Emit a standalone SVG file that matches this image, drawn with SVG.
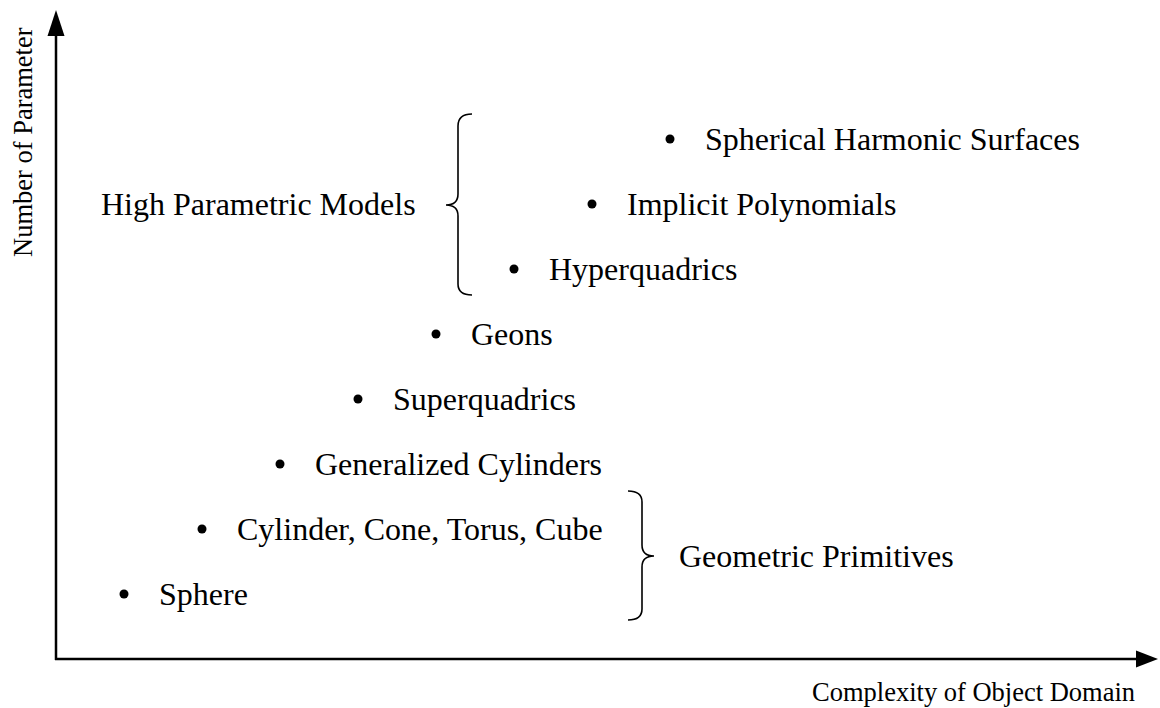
<svg xmlns="http://www.w3.org/2000/svg" width="1160" height="708" viewBox="0 0 1160 708">
<style>
text{font-family:"Liberation Serif","Times New Roman",serif;fill:#000}
.lbl{font-size:32px}
.ax{font-size:26.5px}
.axis{stroke:#000;stroke-width:2.5;fill:none}
.brace{stroke:#000;stroke-width:1.6;fill:none}
.dot{fill:#000}
.head{fill:#000}
</style>
<rect width="1160" height="708" fill="#fff"/>
<g id="connectors">
<path class="axis" d="M56,660 V36"/>
<polygon class="head" points="56,10 47.5,36 64.5,36"/>
<path class="axis" d="M55,659 H1136"/>
<polygon class="head" points="1158,659 1136,650.5 1136,667.5"/>
<path class="brace" d="M472,114 Q458,114 458,126 V194 Q458,205 446,205 Q458,205 458,216 V284 Q458,295 472,295"/>
<path class="brace" d="M628,491 Q642,491 642,502 V545 Q642,556 654,556 Q642,556 642,567 V609 Q642,620 628,620"/>
</g>
<g id="axis-y-label"><text class="ax" transform="translate(32,257) rotate(-90)">Number of Parameter</text></g>
<g id="axis-x-label"><text class="ax" x="812" y="701">Complexity of Object Domain</text></g>
<g id="spherical-harmonic"><circle class="dot" cx="670" cy="139" r="4.5"/><text class="lbl" x="705" y="150">Spherical Harmonic Surfaces</text></g>
<g id="implicit-polynomials"><circle class="dot" cx="592" cy="204" r="4.5"/><text class="lbl" x="627" y="215">Implicit Polynomials</text></g>
<g id="hyperquadrics"><circle class="dot" cx="514" cy="269" r="4.5"/><text class="lbl" x="549" y="280">Hyperquadrics</text></g>
<g id="geons"><circle class="dot" cx="436" cy="334" r="4.5"/><text class="lbl" x="471" y="345">Geons</text></g>
<g id="superquadrics"><circle class="dot" cx="358" cy="399" r="4.5"/><text class="lbl" x="393" y="410">Superquadrics</text></g>
<g id="generalized-cylinders"><circle class="dot" cx="280" cy="464" r="4.5"/><text class="lbl" x="315" y="475">Generalized Cylinders</text></g>
<g id="cylinder-cone"><circle class="dot" cx="202" cy="529" r="4.5"/><text class="lbl" x="237" y="540">Cylinder, Cone, Torus, Cube</text></g>
<g id="sphere"><circle class="dot" cx="124" cy="594" r="4.5"/><text class="lbl" x="159" y="605">Sphere</text></g>
<g id="high-parametric"><text class="lbl" x="101" y="215">High Parametric Models</text></g>
<g id="geometric-primitives"><text class="lbl" x="679" y="567">Geometric Primitives</text></g>
</svg>
